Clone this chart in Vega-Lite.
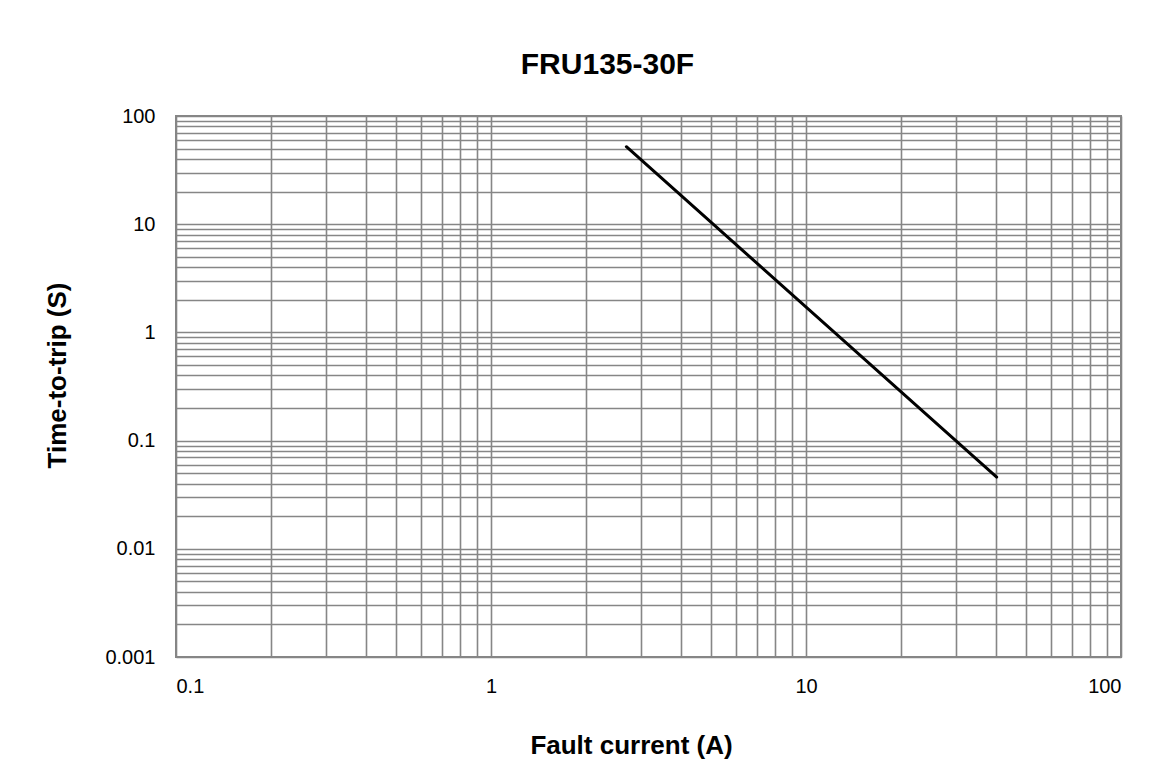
{
  "$schema": "https://vega.github.io/schema/vega-lite/v6.json",
  "autosize": {"type": "none"},
  "width": 945,
  "height": 541,
  "padding": {"left": 176, "top": 116, "right": 42, "bottom": 110},
  "background": "white",
  "title": {
    "text": "FRU135-30F",
    "font": "Liberation Sans",
    "fontSize": 30,
    "fontWeight": "bold",
    "color": "black",
    "anchor": "middle",
    "baseline": "alphabetic",
    "offset": 2,
    "dx": -41
  },
  "data": {
    "values": [
      {"current": 2.69, "time": 52},
      {"current": 40.3, "time": 0.046}
    ]
  },
  "mark": {"type": "line", "color": "black", "strokeWidth": 3, "strokeCap": "round", "clip": true},
  "encoding": {
    "x": {
      "field": "current",
      "type": "quantitative",
      "title": "Fault current (A)",
      "scale": {"type": "log", "domain": [0.1, 100], "nice": false},
      "axis": {
        "values": [0.1,0.2,0.3,0.4,0.5,0.6,0.7,0.8,0.9,1,2,3,4,5,6,7,8,9,10,20,30,40,50,60,70,80,90,100],
        "format": "~g",
        "labelExpr": "indexof(['0.1','1','10','100'], datum.label) >= 0 ? datum.label : ''",
        "labelOverlap": false,
        "labelPadding": 19,
        "titleX": 455,
        "titleY": 96,
        "titleBaseline": "alphabetic"
      }
    },
    "y": {
      "field": "time",
      "type": "quantitative",
      "title": "Time-to-trip (S)",
      "scale": {"type": "log", "domain": [0.001, 100], "nice": false},
      "axis": {
        "values": [0.001,0.002,0.003,0.004,0.005,0.006,0.007,0.008,0.009,0.01,0.02,0.03,0.04,0.05,0.06,0.07,0.08,0.09,0.1,0.2,0.3,0.4,0.5,0.6,0.7,0.8,0.9,1,2,3,4,5,6,7,8,9,10,20,30,40,50,60,70,80,90,100],
        "format": "~g",
        "labelExpr": "indexof(['0.001','0.01','0.1','1','10','100'], datum.label) >= 0 ? datum.label : ''",
        "labelOverlap": false,
        "labelPadding": 21,
        "titleX": -111,
        "titleY": 259,
        "titleBaseline": "alphabetic"
      }
    }
  },
  "config": {
    "view": {"stroke": "#868686", "strokeWidth": 2},
    "axis": {
      "grid": true,
      "gridColor": "#868686",
      "gridWidth": 1.6,
      "gridOpacity": 1,
      "ticks": false,
      "domain": false,
      "labelFont": "Liberation Sans",
      "labelFontSize": 20,
      "labelColor": "black",
      "titleFont": "Liberation Sans",
      "titleFontSize": 26,
      "titleFontWeight": "bold",
      "titleColor": "black"
    }
  }
}
